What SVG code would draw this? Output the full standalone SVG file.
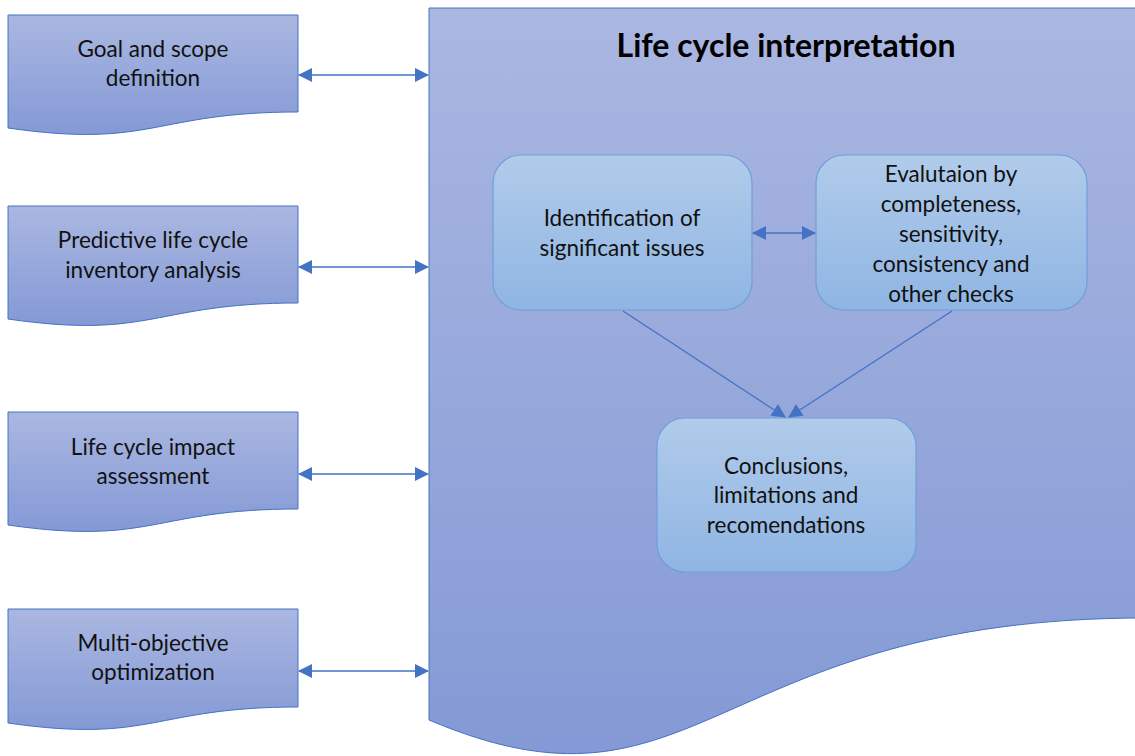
<svg xmlns="http://www.w3.org/2000/svg" width="1135" height="756" viewBox="0 0 1135 756">
  <defs>
    <linearGradient id="docFill" x1="0" y1="0" x2="0" y2="1">
      <stop offset="0" stop-color="#aab7e1"/>
      <stop offset="1" stop-color="#8499d5"/>
    </linearGradient>
    <linearGradient id="stepFill" x1="0" y1="0" x2="0" y2="1">
      <stop offset="0" stop-color="#b1cbea"/>
      <stop offset="1" stop-color="#8fb5e3"/>
    </linearGradient>
    <marker id="arrow" viewBox="0 0 14 14" refX="13" refY="7" markerWidth="14" markerHeight="14" markerUnits="userSpaceOnUse" orient="auto-start-reverse">
      <path d="M0,0 L14,7 L0,14 Z" fill="#4472c4"/>
    </marker>
  </defs>
  <style>
    .doc { fill: url(#docFill); stroke: #4472c4; stroke-width: 1; }
    .step { fill: url(#stepFill); stroke: #6f9fdb; stroke-width: 1.2; }
    .lbl { font-family: Lato, "Open Sans", "Liberation Sans", sans-serif; font-size: 22.5px; fill: #111111; text-anchor: middle; }
    .title { font-family: Lato, "Open Sans", "Liberation Sans", sans-serif; font-size: 32px; font-weight: bold; fill: #000000; text-anchor: middle; }
    .link { stroke: #4472c4; stroke-width: 1.3; fill: none; marker-start: url(#arrow); marker-end: url(#arrow); }
    .flow { stroke: #4472c4; stroke-width: 1.3; fill: none; marker-end: url(#arrow); }
  </style>

  <!-- interpretation panel -->
  <g id="interpretation">
    <path class="doc" d="M429,8 H1145 V618 C710,618 700,835 429,720 Z"/>
    <text class="title" x="786" y="57">Life cycle interpretation</text>
  </g>

  <!-- LCA phases on the left -->
  <g id="goal-scope">
    <path class="doc" d="M8,15 H298 V112 C153,112 153,149 8,128 Z"/>
    <text class="lbl"><tspan x="153" y="57">Goal and scope</tspan><tspan x="153" y="86">definition</tspan></text>
  </g>
  <g id="inventory">
    <path class="doc" d="M8,206 H298 V303 C153,303 153,340 8,319 Z"/>
    <text class="lbl"><tspan x="153" y="248">Predictive life cycle</tspan><tspan x="153" y="278">inventory analysis</tspan></text>
  </g>
  <g id="impact">
    <path class="doc" d="M8,412 H298 V509 C153,509 153,546 8,525 Z"/>
    <text class="lbl"><tspan x="153" y="455">Life cycle impact</tspan><tspan x="153" y="484">assessment</tspan></text>
  </g>
  <g id="optimization">
    <path class="doc" d="M8,609 H298 V707 C153,707 153,744 8,723 Z"/>
    <text class="lbl"><tspan x="153" y="651">Multi-objective</tspan><tspan x="153" y="680">optimization</tspan></text>
  </g>

  <!-- interpretation steps -->
  <g id="identification">
    <rect class="step" x="493" y="155" width="259" height="155" rx="28" ry="28"/>
    <text class="lbl"><tspan x="622" y="226">Identification of</tspan><tspan x="622" y="256">significant issues</tspan></text>
  </g>
  <g id="evaluation">
    <rect class="step" x="816" y="155" width="271" height="155" rx="28" ry="28"/>
    <text class="lbl"><tspan x="951" y="182">Evalutaion by</tspan><tspan x="951" y="212">completeness,</tspan><tspan x="951" y="242">sensitivity,</tspan><tspan x="951" y="272">consistency and</tspan><tspan x="951" y="302">other checks</tspan></text>
  </g>
  <g id="conclusions">
    <rect class="step" x="657" y="418" width="259" height="154" rx="28" ry="28"/>
    <text class="lbl"><tspan x="786" y="474">Conclusions,</tspan><tspan x="786" y="503">limitations and</tspan><tspan x="786" y="533">recomendations</tspan></text>
  </g>

  <!-- connectors -->
  <g id="connectors">
    <line class="link" x1="299" y1="75" x2="428" y2="75"/>
    <line class="link" x1="299" y1="267" x2="428" y2="267"/>
    <line class="link" x1="299" y1="474" x2="428" y2="474"/>
    <line class="link" x1="299" y1="671" x2="428" y2="671"/>
    <line class="link" x1="753" y1="233" x2="815" y2="233"/>
    <line class="flow" x1="623" y1="311" x2="785" y2="417"/>
    <line class="flow" x1="952" y1="311" x2="789" y2="417"/>
  </g>
</svg>
